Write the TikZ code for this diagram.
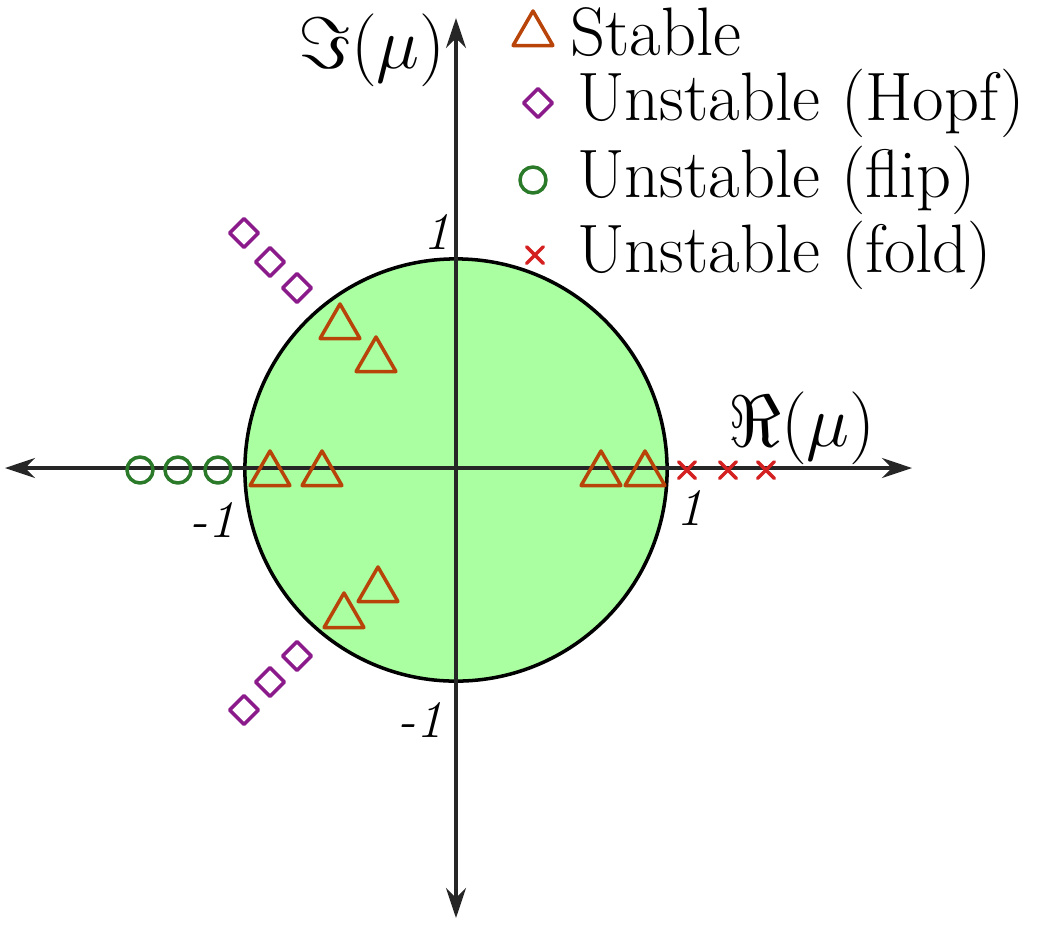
\documentclass[tikz,border=0pt]{standalone}
\usetikzlibrary{arrows.meta,shapes.geometric,shapes.misc}
\definecolor{stabc}{HTML}{B8440A}
\definecolor{hopfc}{HTML}{8B1A8B}
\definecolor{flipc}{HTML}{2A7A2A}
\definecolor{foldc}{HTML}{D42020}
\definecolor{diskc}{HTML}{AAFFA0}
\tikzset{
  tri/.style={regular polygon, regular polygon sides=3, draw=stabc, line width=1pt, minimum size=0.46cm, inner sep=0pt},
  dia/.style={diamond, draw=hopfc, line width=1pt, minimum width=0.3cm, minimum height=0.3cm, inner sep=0pt},
  cir/.style={circle, draw=flipc, line width=1pt, minimum size=0.26cm, inner sep=0pt},
  crs/.style={cross out, draw=foldc, line width=1pt, minimum size=0.13cm, inner sep=0pt},
  lbl/.style={font=\fontsize{19.5}{23}\selectfont},
  tick/.style={font=\fontsize{15}{18}\selectfont\itshape},
}
\begin{document}
\begin{tikzpicture}[x=0.01cm,y=-0.01cm,line cap=round, line join=round]
  \useasboundingbox (0,0) rectangle (1050,926);
  % unit disk
  \draw[fill=diskc, line width=1pt] (456,470) circle (2.11cm);
  % axes
  \coordinate (xl) at (5,468);
  \coordinate (xr) at (912,468);
  \coordinate (yt) at (456,18);
  \coordinate (yb) at (456,918);
  \draw[{Stealth[length=0.3cm,width=0.2cm]}-{Stealth[length=0.3cm,width=0.2cm]}, line width=1pt, black!85] (xl) -- (xr);
  \draw[{Stealth[length=0.3cm,width=0.2cm]}-{Stealth[length=0.3cm,width=0.2cm]}, line width=1pt, black!85] (yb) -- (yt);
  \node[font=\fontsize{21}{25}\selectfont] (im) at (372,50) {$\Im(\mu)$};
  \node[font=\fontsize{21}{25}\selectfont] (re) at (802,428) {$\Re(\mu)$};
  \node[tick] (t1) at (437,232) {1};
  \node[tick] (t2) at (212,520) {-1};
  \node[tick] (t3) at (690,508) {1};
  \node[tick] (t4) at (420,720) {-1};
  % multipliers
  \foreach \p in {(340,327),(376,360),(270,474),(322,474),(601,474),(645,474),(378,590),(344,616)}
    \node[tri] at \p {};
  \foreach \p in {(244,233),(270,262),(297,288),(297,656),(270,682),(244,710)}
    \node[dia] at \p {};
  \foreach \p in {(140,470),(178,470),(218,470)}
    \node[cir] at \p {};
  \foreach \p in {(687,470),(728,470),(766,470)}
    \node[crs] at \p {};
  % legend
  \node[tri] (ls) at (533,34) {};
  \node[dia] (lh) at (538,103) {};
  \node[cir] (lf) at (533,180) {};
  \node[crs] (ld) at (535,255) {};
  \node[lbl, anchor=west] at (558,32) {Stable};
  \node[lbl, anchor=west] at (565,103) {Unstable (Hopf)};
  \node[lbl, anchor=west] at (565,180) {Unstable (flip)};
  \node[lbl, anchor=west] at (565,255) {Unstable (fold)};
\end{tikzpicture}
\end{document}
